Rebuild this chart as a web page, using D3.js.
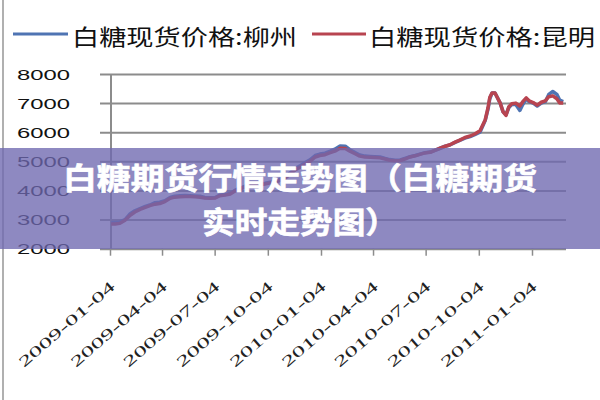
<!DOCTYPE html>
<html>
<head>
<meta charset="utf-8">
<script src="https://cdn.jsdelivr.net/npm/d3@7"></script>
<style>
  html, body { margin: 0; padding: 0; background: #fff; }
  svg { display: block; }
</style>
</head>
<body>
<svg id="chart" width="600" height="400"></svg>
<script>
// ---- data ----
const seriesNames = ["白糖现货价格:柳州", "白糖现货价格:昆明"];
const dates = [
  "2009-01-06","2009-01-13","2009-01-21","2009-01-30","2009-02-08","2009-02-16","2009-02-25","2009-03-06",
  "2009-03-14","2009-03-23","2009-03-31","2009-04-09","2009-04-18","2009-04-26","2009-05-05","2009-05-14",
  "2009-05-22","2009-05-31","2009-06-09","2009-06-17","2009-06-26","2009-07-05","2009-07-13","2009-07-22",
  "2009-07-31","2009-08-08","2009-08-17","2009-08-26","2009-09-03","2009-09-12","2009-09-20","2009-09-29",
  "2009-10-08","2009-10-16","2009-10-25","2009-11-03","2009-11-11","2009-11-20","2009-11-29","2009-12-07",
  "2009-12-16","2009-12-25","2010-01-02","2010-01-11","2010-01-20","2010-01-28","2010-02-06","2010-02-15",
  "2010-02-23","2010-03-04","2010-03-12","2010-03-21","2010-03-30","2010-04-07","2010-04-16","2010-04-25",
  "2010-05-03","2010-05-12","2010-05-21","2010-05-29","2010-06-07","2010-06-16","2010-06-24","2010-07-03",
  "2010-07-12","2010-07-20","2010-07-29","2010-08-07","2010-08-15","2010-08-24","2010-09-01","2010-09-10",
  "2010-09-19","2010-09-27","2010-10-06","2010-10-15","2010-10-20","2010-10-23","2010-10-27","2010-11-01",
  "2010-11-10","2010-11-15","2010-11-20","2010-11-25","2010-11-30","2010-12-07","2010-12-14","2010-12-19",
  "2010-12-25","2010-12-30","2011-01-06","2011-01-13","2011-01-20","2011-01-27","2011-02-02","2011-02-09",
  "2011-02-16","2011-02-21","2011-02-27"
];
const liuzhou = [
  2900,2900,2920,3000,3200,3300,3380,3450,
  3500,3580,3600,3650,3760,3800,3820,3830,
  3820,3810,3800,3760,3750,3760,3840,3860,
  3900,4000,4080,4150,4180,4200,4230,4250,
  4280,4300,4380,4450,4600,4750,4850,4950,
  5050,5200,5250,5280,5350,5420,5530,5520,
  5400,5300,5220,5180,5170,5160,5150,5100,
  5060,5040,5050,5100,5160,5200,5250,5300,
  5320,5380,5450,5520,5560,5650,5720,5800,
  5850,5920,6000,6400,6800,7150,7350,7350,
  7000,6700,6600,6850,6950,6950,6750,6950,
  7150,7050,7000,6900,7000,7050,7300,7400,
  7300,7100,7050
];
const kunming = [
  2850,2850,2870,2980,3150,3260,3350,3420,
  3480,3530,3550,3620,3730,3770,3780,3790,
  3790,3780,3770,3740,3730,3740,3820,3840,
  3880,3980,4060,4120,4150,4180,4200,4220,
  4260,4280,4350,4420,4560,4700,4800,4900,
  5000,5150,5200,5230,5300,5350,5450,5440,
  5350,5260,5180,5150,5140,5130,5120,5080,
  5040,5020,5030,5080,5150,5190,5240,5290,
  5310,5380,5450,5520,5570,5660,5730,5820,
  5870,5940,6050,6420,6850,7200,7350,7350,
  7000,6700,6580,6880,6980,7000,6900,7050,
  7180,7080,7020,6930,7030,7080,7220,7250,
  7150,7000,7000
];
const yTicks = [2000, 3000, 4000, 5000, 6000, 7000, 8000];
const xTickLabels = ["2009-01-04","2009-04-04","2009-07-04","2009-10-04","2010-01-04",
                     "2010-04-04","2010-07-04","2010-10-04","2011-01-04"];
const bannerLines = ["白糖期货行情走势图（白糖期货", "实时走势图）"];

// ---- drawing ----
const parse = d3.timeParse("%Y-%m-%d");
const svg = d3.select("#chart");
const colors = ["#4F74B3", "#B84450"];

const x = d3.scaleTime()
  .domain([parse("2009-01-04"), parse("2011-01-04")])
  .range([110, 532]);
const y = d3.scaleLinear().domain([2000, 8000]).range([248.7, 74]);

// left border
svg.append("line").attr("x1", 3).attr("x2", 3).attr("y1", 0).attr("y2", 400)
  .attr("stroke", "#b0b0b0").attr("stroke-width", 2);

// legend
const legend = [{x0: 13, x1: 68, tx: 72, tl: 225}, {x0: 312, x1: 366, tx: 369, tl: 226}];
legend.forEach((l, i) => {
  svg.append("line").attr("x1", l.x0).attr("x2", l.x1).attr("y1", 34).attr("y2", 34)
    .attr("stroke", colors[i]).attr("stroke-width", 3);
  svg.append("text").attr("x", l.tx).attr("y", 45)
    .attr("font-family", "'Noto Sans CJK SC', sans-serif").attr("font-size", 22)
    .attr("fill", "#111")
    .attr("textLength", l.tl).attr("lengthAdjust", "spacingAndGlyphs")
    .text(seriesNames[i]);
});

// y axis + grid
const yAxis = svg.append("g").attr("transform", "translate(111,0)")
  .call(d3.axisLeft(y).tickValues(yTicks).tickSize(0).tickFormat(d3.format("d")));
yAxis.select(".domain").remove();
yAxis.selectAll(".tick line").remove();
yAxis.selectAll(".tick").append("line")
  .attr("x1", -11).attr("x2", 455).attr("y1", 0).attr("y2", 0)
  .attr("stroke", "#8c8c8c").attr("stroke-width", 2);
yAxis.selectAll(".tick text")
  .attr("x", -41).attr("dy", "0.36em")
  .attr("font-family", "'Liberation Sans', Arial, sans-serif").attr("font-size", 14)
  .attr("fill", "#111").attr("text-anchor", "end")
  .attr("textLength", 53).attr("lengthAdjust", "spacingAndGlyphs");
svg.append("line").attr("x1", 111).attr("x2", 111).attr("y1", y(8000)).attr("y2", y(2000))
  .attr("stroke", "#8c8c8c").attr("stroke-width", 2);

// x axis ticks
const xAxis = svg.append("g").attr("transform", `translate(0,${y(2000)})`)
  .call(d3.axisBottom(x).tickValues(xTickLabels.map(parse)).tickSize(7).tickFormat(() => ""));
xAxis.select(".domain").remove();
xAxis.selectAll(".tick line").attr("stroke", "#8c8c8c").attr("stroke-width", 1.5);
xAxis.selectAll(".tick text").remove();
svg.append("g").selectAll("text").data(xTickLabels).join("text")
  .attr("transform", d => `translate(${x(parse(d)) + 6},${288}) rotate(-41)`)
  .attr("text-anchor", "end")
  .attr("font-family", "'Liberation Serif', 'Times New Roman', serif").attr("font-size", 15)
  .attr("fill", "#222")
  .attr("textLength", 122).attr("lengthAdjust", "spacingAndGlyphs")
  .text(d => d);

// lines
const pts = dates.map(parse);
const line = d3.line().x((d, i) => x(pts[i])).y(d => y(d));
[liuzhou, kunming].forEach((s, i) => {
  svg.append("path").datum(s).attr("d", line)
    .attr("fill", "none").attr("stroke", colors[i]).attr("stroke-width", 3.5)
    .attr("stroke-linejoin", "round");
});

// banner overlay
svg.append("rect").attr("x", 0).attr("y", 148).attr("width", 600).attr("height", 101)
  .attr("fill", "rgb(110,104,176)").attr("fill-opacity", 0.78);
const bannerWidths = [474, 196];
svg.append("g").selectAll("text").data(bannerLines).join("text")
  .attr("x", (d, i) => 300 - bannerWidths[i] / 2)
  .attr("y", (d, i) => 189 + i * 44)
  .attr("font-family", "'Noto Sans CJK SC', sans-serif").attr("font-weight", "bold")
  .attr("font-size", 30).attr("fill", "#fff")
  .attr("stroke", "#fff").attr("stroke-width", 0.6)
  .attr("textLength", (d, i) => bannerWidths[i]).attr("lengthAdjust", "spacingAndGlyphs")
  .text(d => d);
</script>
</body>
</html>
